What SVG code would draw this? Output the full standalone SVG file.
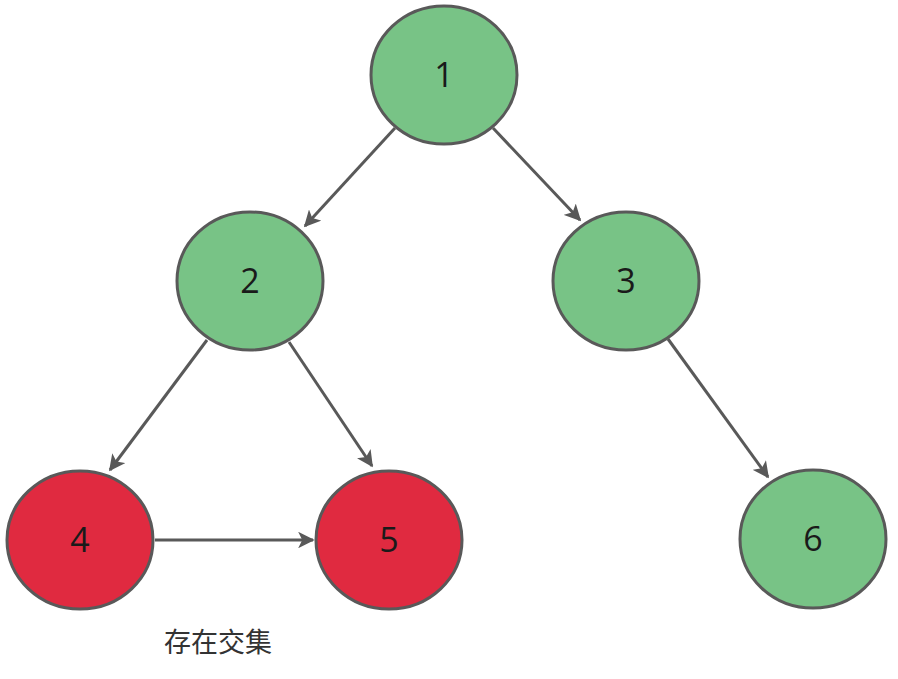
<svg xmlns="http://www.w3.org/2000/svg" width="898" height="679" viewBox="0 0 898 679">
<style>
.node ellipse{stroke:#595959;stroke-width:3}
.green{fill:#78C386}
.red{fill:#E02A40}
.lbl{font-family:"Open Sans","Noto Sans",sans-serif;font-size:34px;fill:#1a1a1a;text-anchor:middle}
.edge{stroke:#595959;stroke-width:3;fill:none;marker-end:url(#arr)}
.cap{font-family:"Noto Sans CJK SC","Noto Sans",sans-serif;font-size:27px;fill:#333;text-anchor:middle}
</style>
<defs>
<marker id="arr" viewBox="0 0 10 10" refX="9" refY="5" markerWidth="5.5" markerHeight="5.5" orient="auto" markerUnits="strokeWidth">
<path d="M0,0 L10,5 L0,10 L2.5,5 z" fill="#595959"/>
</marker>
</defs>
<g id="connectors">
<line class="edge" x1="395" y1="128" x2="305" y2="226"/>
<line class="edge" x1="493" y1="128" x2="580" y2="220"/>
<line class="edge" x1="207" y1="340" x2="110" y2="470"/>
<line class="edge" x1="289" y1="342" x2="372" y2="466"/>
<line class="edge" x1="668" y1="339" x2="768" y2="477"/>
<line class="edge" x1="155" y1="540" x2="313" y2="540"/>
</g>
<g id="node1" class="node"><ellipse class="green" cx="444" cy="75" rx="73" ry="69"/><text class="lbl" x="444" y="87">1</text></g>
<g id="node2" class="node"><ellipse class="green" cx="250" cy="281" rx="73" ry="69"/><text class="lbl" x="250" y="293">2</text></g>
<g id="node3" class="node"><ellipse class="green" cx="626" cy="281" rx="73" ry="69"/><text class="lbl" x="626" y="293">3</text></g>
<g id="node4" class="node"><ellipse class="red" cx="80" cy="540" rx="73" ry="69"/><text class="lbl" x="80" y="552">4</text></g>
<g id="node5" class="node"><ellipse class="red" cx="389" cy="540" rx="73" ry="69"/><text class="lbl" x="389" y="552">5</text></g>
<g id="node6" class="node"><ellipse class="green" cx="813" cy="539" rx="73" ry="69"/><text class="lbl" x="813" y="551">6</text></g>
<g id="caption"><text class="cap" x="218" y="652">存在交集</text></g>
</svg>
